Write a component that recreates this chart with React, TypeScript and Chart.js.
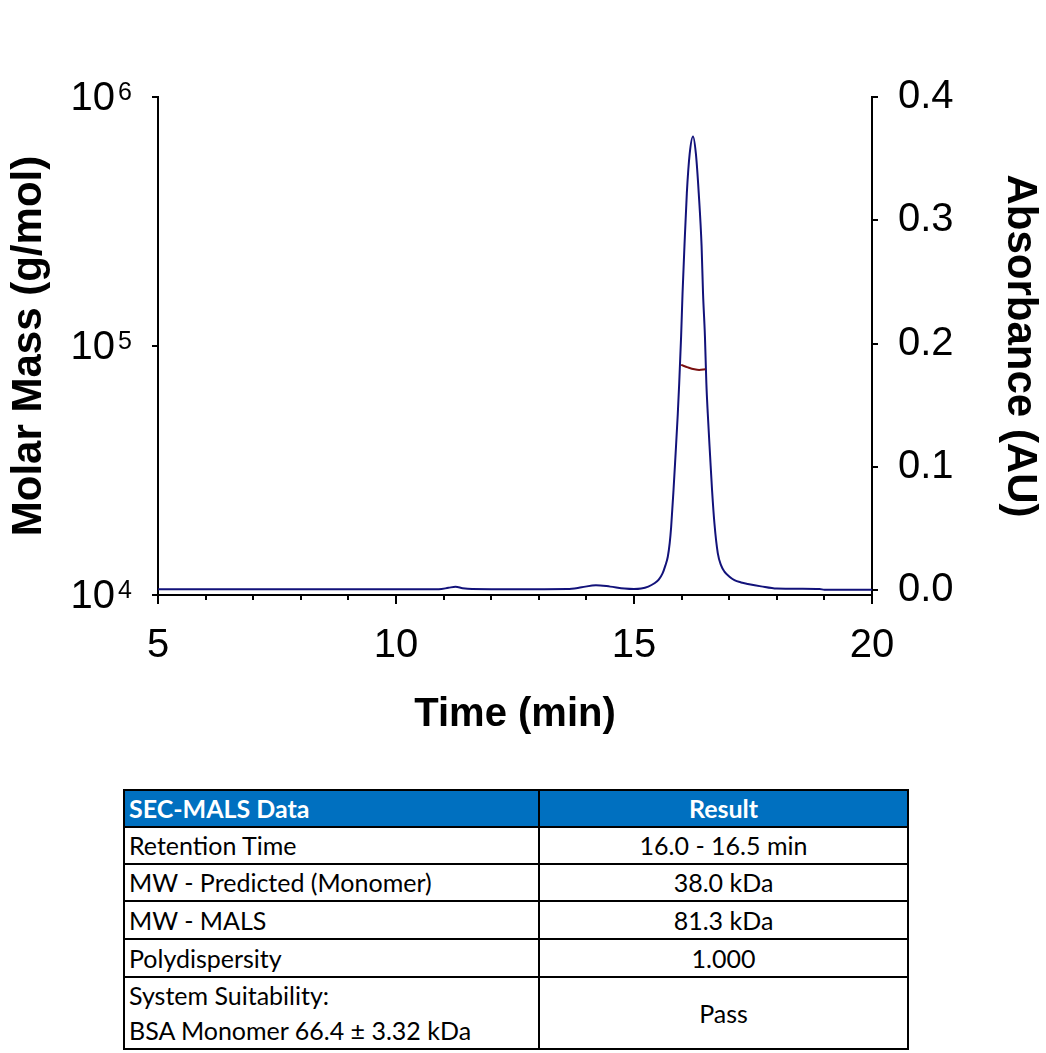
import React, { useEffect, useRef } from 'react';
import { Chart, registerables } from 'chart.js';

Chart.register(...registerables);

// Absorbance trace (right axis)
const absTime = [5, 6, 7, 8, 9, 10, 10.9, 11.1, 11.25, 11.4, 11.6, 12, 13, 13.6, 13.9, 14.2, 14.5, 14.8, 15.0, 15.15, 15.3, 15.43, 15.52, 15.6, 15.66, 15.71, 15.75, 15.78, 15.83, 15.87, 15.92, 15.95, 15.99, 16.02, 16.06, 16.11, 16.17, 16.24, 16.3, 16.36, 16.42, 16.45, 16.49, 16.52, 16.55, 16.6, 16.64, 16.69, 16.76, 16.83, 16.9, 17.0, 17.11, 17.25, 17.39, 17.67, 18.0, 18.5, 18.9, 19.0, 19.5, 20];
const absValue = [0.0006, 0.0006, 0.0006, 0.0006, 0.0006, 0.0006, 0.0007, 0.0018, 0.0027, 0.0015, 0.0008, 0.0007, 0.0007, 0.0008, 0.0022, 0.004, 0.0028, 0.0012, 0.0008, 0.0012, 0.0028, 0.0055, 0.0085, 0.0135, 0.02, 0.027, 0.038, 0.051, 0.081, 0.108, 0.143, 0.168, 0.206, 0.241, 0.279, 0.322, 0.354, 0.368, 0.354, 0.322, 0.279, 0.241, 0.206, 0.168, 0.143, 0.108, 0.081, 0.054, 0.03, 0.02, 0.015, 0.011, 0.008, 0.0062, 0.005, 0.003, 0.0012, 0.001, 0.0008, 0.0003, 0.0002, 0.0002];

// Molar mass trace (left axis)
const massTime = [15.99, 16.13, 16.27, 16.37, 16.5];
const massValue = [84000, 82100, 80600, 80100, 80600];

// Axis ticks
const xMajorTicks = [5, 10, 15, 20];
const leftTickExponents = [4, 5, 6];
const rightTicks = [0, 0.1, 0.2, 0.3, 0.4];

// Table
const tableHeader = ['SEC-MALS Data', 'Result'];
const tableLabels = ['Retention Time', 'MW - Predicted (Monomer)', 'MW - MALS', 'Polydispersity', 'System Suitability:\nBSA Monomer 66.4 \u00b1 3.32 kDa'];
const tableResults = ['16.0 - 16.5 min', '38.0 kDa', '81.3 kDa', '1.000', 'Pass'];

const FONT = '"Liberation Sans", Arial, Helvetica, sans-serif';
const W = 1046;
const H = 760;
const AREA_LEFT = 158;
const AREA_RIGHT = 872;
const AREA_TOP = 97;
const AREA_BOTTOM = 595;

const customPlugin = {
  id: 'customDraw',
  afterDraw(chart: any) {
    const ctx = chart.ctx;
    const ys = chart.scales.y;
    const xs = chart.scales.x;
    ctx.save();
    ctx.fillStyle = '#000';
    leftTickExponents.forEach((e) => {
      const py = ys.getPixelForValue(Math.pow(10, e));
      const sup = String(e);
      ctx.font = `25px ${FONT}`;
      ctx.textAlign = 'right';
      ctx.textBaseline = 'alphabetic';
      const supW = ctx.measureText(sup).width;
      const rightEdge = 132;
      ctx.fillText(sup, rightEdge, py + 3);
      ctx.font = `40px ${FONT}`;
      ctx.textBaseline = 'middle';
      ctx.fillText('10', rightEdge - supW - 3, py + 2);
    });
    ctx.strokeStyle = '#000';
    ctx.lineWidth = 2;
    xMajorTicks.forEach((v) => {
      const px = xs.getPixelForValue(v);
      ctx.beginPath();
      ctx.moveTo(px, xs.top);
      ctx.lineTo(px, xs.top + 9);
      ctx.stroke();
    });
    ctx.restore();
  },
};

function ChartView() {
  const ref = useRef<HTMLCanvasElement | null>(null);
  useEffect(() => {
    if (!ref.current) return;
    const chart = new Chart(ref.current, {
      type: 'line',
      data: {
        datasets: [
          {
            label: 'Molar Mass',
            data: massTime.map((t, i) => ({ x: t, y: massValue[i] })),
            yAxisID: 'y',
            borderColor: '#7a1010',
            borderWidth: 2,
            pointRadius: 0,
            cubicInterpolationMode: 'monotone',
          },
          {
            label: 'Absorbance',
            data: absTime.map((t, i) => ({ x: t, y: absValue[i] })),
            yAxisID: 'y1',
            borderColor: '#12127a',
            borderWidth: 2,
            pointRadius: 0,
            cubicInterpolationMode: 'monotone',
          },
        ],
      },
      options: {
        responsive: false,
        maintainAspectRatio: false,
        devicePixelRatio: 1,
        animation: false,
        layout: { padding: { top: AREA_TOP, left: 0, right: 0, bottom: 0 } },
        plugins: { legend: { display: false }, tooltip: { enabled: false } },
        scales: {
          x: {
            type: 'linear',
            position: 'bottom',
            min: 5,
            max: 20,
            afterBuildTicks: (s: any) => {
              const t = [];
              for (let v = 5; v <= 20; v++) t.push({ value: v });
              s.ticks = t;
            },
            afterFit: (s: any) => {
              s.height = H - AREA_BOTTOM;
            },
            ticks: {
              autoSkip: false,
              maxRotation: 0,
              color: '#000',
              font: { size: 40, family: FONT },
              padding: 22,
              callback: (v: any) => (xMajorTicks.includes(Number(v)) ? String(v) : ''),
            },
            grid: { display: true, drawOnChartArea: false, drawTicks: true, tickLength: 5, color: '#000', lineWidth: 2 },
            border: { display: true, color: '#000', width: 2 },
            title: {
              display: true,
              text: 'Time (min)',
              color: '#000',
              font: { size: 40, weight: 'bold', family: FONT },
              padding: { top: 0, bottom: 21 },
            },
          },
          y: {
            type: 'logarithmic',
            position: 'left',
            min: 1e4,
            max: 1e6,
            afterBuildTicks: (s: any) => {
              s.ticks = leftTickExponents.map((e) => ({ value: Math.pow(10, e) }));
            },
            afterFit: (s: any) => {
              s.width = AREA_LEFT;
            },
            ticks: { display: false },
            grid: { display: true, drawOnChartArea: false, drawTicks: true, tickLength: 6, color: '#000', lineWidth: 2 },
            border: { display: true, color: '#000', width: 2 },
            title: {
              display: true,
              text: 'Molar Mass (g/mol)',
              color: '#000',
              font: { size: 42, weight: 'bold', family: FONT },
              padding: { top: 4, bottom: 0 },
            },
          },
          y1: {
            type: 'linear',
            position: 'right',
            min: -0.004,
            max: 0.4,
            afterBuildTicks: (s: any) => {
              s.ticks = rightTicks.map((v) => ({ value: v }));
            },
            afterFit: (s: any) => {
              s.width = W - AREA_RIGHT;
            },
            ticks: {
              color: '#000',
              font: { size: 40, family: FONT },
              padding: 20,
              callback: (v: any) => Number(v).toFixed(1),
            },
            grid: { display: true, drawOnChartArea: false, drawTicks: true, tickLength: 6, color: '#000', lineWidth: 2 },
            border: { display: true, color: '#000', width: 2 },
            title: {
              display: true,
              text: 'Absorbance (AU)',
              color: '#000',
              font: { size: 42, weight: 'bold', family: FONT },
              padding: { top: 1, bottom: 0 },
            },
          },
        },
      } as any,
      plugins: [customPlugin],
    });
    return () => chart.destroy();
  }, []);
  return <canvas ref={ref} width={W} height={H} style={{ display: 'block', width: W, height: H }} />;
}

const cellBorder = '2px solid #000';
const tableFont = 'Lato, "Open Sans", "Liberation Sans", sans-serif';

export default function App() {
  const rowHeights = [37, 37, 38, 38, 72];
  return (
    <div style={{ position: 'absolute', left: 0, top: 0, width: W, height: 1053, background: '#fff' }}>
      <ChartView />
      <table
        style={{
          position: 'absolute',
          left: 123,
          top: 789,
          width: 784,
          borderCollapse: 'collapse',
          fontFamily: tableFont,
          fontSize: 25,
          color: '#000',
          tableLayout: 'fixed',
        }}
      >
        <colgroup>
          <col style={{ width: 415 }} />
          <col style={{ width: 369 }} />
        </colgroup>
        <thead>
          <tr style={{ height: 37, background: '#0070c0', color: '#fff', fontWeight: 'bold' }}>
            <td style={{ border: cellBorder, padding: '0 4px', textAlign: 'left', lineHeight: '33px' }}>{tableHeader[0]}</td>
            <td style={{ border: cellBorder, padding: '0 4px', textAlign: 'center', lineHeight: '33px' }}>{tableHeader[1]}</td>
          </tr>
        </thead>
        <tbody>
          {tableLabels.map((lab, i) => (
            <tr key={i} style={{ height: rowHeights[i] }}>
              <td style={{ border: cellBorder, padding: '0 4px', textAlign: 'left', whiteSpace: 'pre-line', lineHeight: i === 4 ? '35px' : '33px' }}>{lab}</td>
              <td style={{ border: cellBorder, padding: '0 4px', textAlign: 'center', lineHeight: '33px' }}>{tableResults[i]}</td>
            </tr>
          ))}
        </tbody>
      </table>
    </div>
  );
}
